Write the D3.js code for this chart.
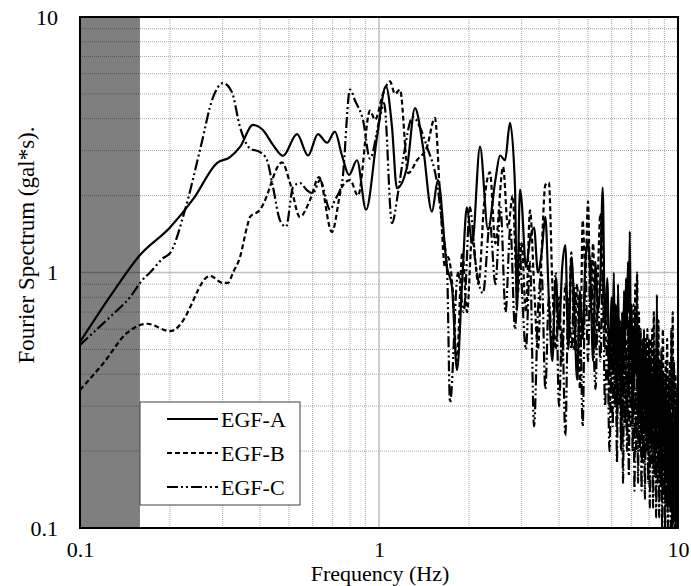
<!DOCTYPE html>
<html>
<head>
<meta charset="utf-8">
<script src="https://d3js.org/d3.v7.min.js"></script>
<style>
body { margin: 0; background: #fff; }
text { font-family: "Liberation Serif", "DejaVu Serif", "Noto Serif", "Times New Roman", serif; }
</style>
</head>
<body>
<div id="chart-area"></div>
<script>
// low frequency part of each spectrum, [Hz, gal*s]
var lowA = [[0.100,0.535],[0.13,0.85],[0.1587,1.17],[0.200,1.5],[0.24,1.95],[0.287,2.68],
    [0.3175,2.83],[0.343,3.10],[0.379,3.78],[0.409,3.61],[0.442,3.16],[0.4775,2.86],[0.532,3.48],[0.579,2.87],
    [0.625,3.48],[0.670,3.22],[0.712,3.56],[0.752,2.87],[0.794,2.41],[0.844,2.75],[0.905,1.76],[0.985,3.40],
    [1.055,5.37],[1.105,3.72],[1.148,2.14],[1.241,2.59],[1.319,4.40],[1.403,3.11],[1.503,1.73],[1.575,2.30],
    [1.688,1.05],[1.754,0.88],[1.823,0.415],[1.90,0.95],[1.967,1.80],[2.05,1.3],[2.177,3.11],[2.315,1.47],
    [2.45,2.3],[2.54,2.87],[2.64,2.75],[2.742,3.85],[2.85,2.16],[2.893,0.71],[2.962,2.11]];

var lowB = [[0.100,0.347],[0.1194,0.44],[0.1436,0.58],[0.1675,0.63],[0.200,0.59],[0.228,0.69],[0.2333,0.73],
    [0.266,0.96],[0.272,0.97],[0.3008,0.91],[0.3126,0.91],[0.325,1.0],[0.343,1.15],[0.362,1.51],[0.3704,1.65],
    [0.400,1.76],[0.409,1.84],[0.474,2.70],[0.504,2.24],[0.544,1.65],[0.5876,1.92],[0.630,2.36],[0.696,1.44],
    [0.752,2.16],[0.80,2.30],[0.851,2.0],[0.933,4.3],[0.970,3.96],[1.031,5.0],[1.088,5.6],[1.131,5.0],
    [1.175,5.2],[1.253,2.45],[1.340,2.75],[1.447,3.10],[1.538,4.03],[1.600,2.0],[1.662,1.05],[1.700,1.15],
    [1.768,0.83],[1.82,0.45],[1.90,1.2],[1.97,0.7],[2.05,1.4],[2.15,0.9],[2.25,1.9],[2.35,2.47],[2.45,1.3],
    [2.6,2.59],[2.7,1.5],[2.8,2.0],[2.9,0.8]];

var lowC = [[0.100,0.52],[0.1105,0.58],[0.126,0.67],[0.147,0.80],[0.1624,0.94],[0.1715,1.0],[0.19,1.14],
    [0.2,1.19],[0.2246,1.76],[0.252,3.02],[0.2786,4.85],[0.3008,5.51],[0.322,5.09],[0.343,3.70],[0.3704,3.06],
    [0.400,2.96],[0.422,2.75],[0.442,2.16],[0.4667,1.6],[0.4887,1.51],[0.516,2.16],[0.544,2.24],[0.574,2.1],
    [0.601,2.04],[0.635,2.3],[0.686,1.76],[0.712,1.92],[0.752,2.24],[0.80,5.2],[0.832,4.7],[0.884,3.95],
    [0.933,2.79],[1.003,3.95],[1.04,4.6],[1.105,1.56],[1.157,2.04],[1.202,2.75],[1.299,4.07],[1.371,3.7],
    [1.447,3.1],[1.563,2.24],[1.637,1.43],[1.69,1.0],[1.728,0.31],[1.838,1.0],[1.92,0.7],[2.014,1.80],
    [2.1,1.1],[2.228,0.83],[2.35,1.56],[2.45,0.9],[2.55,1.8],[2.65,0.7],[2.75,1.5],[2.85,0.6],[2.95,1.3]];

// high frequency part, shared frequency grid
var hfFreq = [3.0,3.1,3.2,3.3,3.4,3.5,3.6,3.7,3.8,3.9,
    4.0,4.1,4.2,4.3,4.4,4.5,4.6,4.7,4.8,4.9,
    5.0,5.1,5.2,5.3,5.4,5.5,5.6,5.7,5.8,5.9,
    6.0,6.05,6.1,6.15,6.2,6.25,6.3,6.35,6.4,6.45,
    6.5,6.55,6.6,6.65,6.7,6.75,6.8,6.85,6.9,6.95,
    7.0,7.05,7.1,7.15,7.2,7.25,7.3,7.35,7.4,7.45,
    7.5,7.55,7.6,7.65,7.7,7.75,7.8,7.85,7.9,7.95,
    8.0,8.05,8.1,8.15,8.2,8.25,8.3,8.35,8.4,8.45,
    8.5,8.55,8.6,8.65,8.7,8.75,8.8,8.85,8.9,8.95,
    9.0,9.05,9.1,9.15,9.2,9.25,9.3,9.35,9.4,9.45,
    9.5,9.55,9.6,9.65,9.7,9.75,9.8,9.85,9.9,9.95,
    10.0];

var hfA = [1.9,1.05,1.35,1.5,1.0,1.2,1.65,0.78,0.45,0.95,
    0.6,1.05,1.28,0.5,1.15,0.7,0.38,0.85,0.55,1.1,
    1.32,0.9,0.45,1.1,0.7,0.95,2.15,0.6,0.95,0.4,
    0.8,0.55,1.0,0.45,0.75,0.3,0.9,0.5,0.65,0.28,
    0.7,0.4,0.85,0.5,0.95,0.6,1.1,0.7,1.45,0.5,
    0.75,0.3,0.6,0.35,0.7,0.4,0.55,0.25,0.6,0.3,
    0.5,0.22,0.55,0.35,0.6,0.28,0.5,0.2,0.45,0.3,
    0.55,0.25,0.45,0.2,0.4,0.28,0.5,0.2,0.45,0.3,
    0.82,0.25,0.4,0.18,0.45,0.25,0.35,0.15,0.4,0.22,
    0.35,0.15,0.4,0.2,0.3,0.13,0.35,0.18,0.3,0.12,
    0.28,0.15,0.3,0.11,0.25,0.14,0.3,0.1,0.22,0.12,
    0.33];

var hfB = [1.3,0.7,1.75,0.9,0.5,1.2,2.2,2.25,0.9,0.5,
    0.8,0.45,0.9,0.6,1.2,0.5,0.9,0.35,1.6,1.0,
    1.9,0.7,1.3,0.5,1.0,1.7,0.9,0.5,0.75,0.3,
    0.6,0.4,0.8,0.3,0.55,0.25,0.7,0.4,0.5,0.2,
    0.6,0.3,0.7,0.4,0.55,0.25,0.65,0.35,0.8,0.45,
    0.6,0.3,0.75,0.4,0.9,0.5,1.0,0.35,0.7,0.28,
    0.6,0.3,0.5,0.18,0.45,0.25,0.55,0.3,0.6,0.2,
    0.45,0.3,0.55,0.22,0.6,0.35,0.7,0.3,0.5,0.2,
    0.55,0.3,0.65,0.25,0.45,0.17,0.5,0.3,0.6,0.25,
    0.4,0.15,0.45,0.25,0.55,0.2,0.4,0.14,0.45,0.25,
    0.6,0.3,0.7,0.2,0.45,0.15,0.4,0.12,0.35,0.2,
    0.45];

var hfC = [0.9,0.5,1.1,0.25,0.7,1.0,0.35,0.8,0.5,1.0,
    0.3,0.6,0.23,0.8,0.5,0.9,0.4,0.7,0.25,1.05,
    0.45,1.15,0.6,0.35,0.8,0.45,1.0,0.3,0.55,0.2,
    0.5,0.25,0.65,0.3,0.45,0.18,0.55,0.3,0.6,0.22,
    0.4,0.15,0.45,0.25,0.5,0.2,0.4,0.16,0.45,0.25,
    0.55,0.2,0.4,0.14,0.35,0.2,0.45,0.15,0.35,0.2,
    0.4,0.14,0.3,0.18,0.35,0.13,0.3,0.2,0.4,0.15,
    0.3,0.12,0.35,0.18,0.28,0.12,0.3,0.16,0.25,0.11,
    0.3,0.15,0.25,0.11,0.28,0.14,0.22,0.1,0.25,0.13,
    0.22,0.1,0.25,0.12,0.2,0.1,0.22,0.12,0.18,0.1,
    0.2,0.1,0.22,0.1,0.17,0.1,0.2,0.1,0.15,0.1,
    0.2];

var seriesNames = ["EGF-A", "EGF-B", "EGF-C"];
var majorTicks = [0.1, 1, 10];
var minorTicks = [0.2,0.3,0.4,0.5,0.6,0.7,0.8,0.9,2,3,4,5,6,7,8,9];
var cutoff = 0.1587;   // shaded band upper frequency

var width = 598;
var height = 511;
var fontTick = "22px";
var fontTitle = "22px";
var serifFont = "'Liberation Serif', 'DejaVu Serif', 'Noto Serif', 'Times New Roman', serif";

var svg = d3.select("#chart-area")
    .append("svg")
    .attr("width", 691)
    .attr("height", 586)
    .attr("font-family", serifFont);

svg.append("rect").attr("width", 691).attr("height", 586).attr("fill", "#fff");

var g = svg.append("g")
    .attr("transform", "translate(80,17)");

var x = d3.scaleLog().domain([0.1, 10]).range([0, width]);
var y = d3.scaleLog().domain([0.1, 10]).range([height, 0]);

// grid
g.append("g")
    .attr("class", "grid minor")
    .selectAll("line.vx")
    .data(minorTicks)
    .enter().append("line")
        .attr("x1", function(d) { return x(d); })
        .attr("x2", function(d) { return x(d); })
        .attr("y1", 0)
        .attr("y2", height)
        .attr("stroke", "#a6a6a6")
        .attr("stroke-width", 1)
        .attr("stroke-dasharray", "1,1");

g.append("g")
    .attr("class", "grid minor")
    .selectAll("line.hy")
    .data(minorTicks)
    .enter().append("line")
        .attr("x1", 0)
        .attr("x2", width)
        .attr("y1", function(d) { return y(d); })
        .attr("y2", function(d) { return y(d); })
        .attr("stroke", "#a6a6a6")
        .attr("stroke-width", 1)
        .attr("stroke-dasharray", "1,1");

g.append("line")
    .attr("x1", x(1)).attr("x2", x(1))
    .attr("y1", 0).attr("y2", height)
    .attr("stroke", "#bfbfbf").attr("stroke-width", 1.5);

g.append("line")
    .attr("x1", 0).attr("x2", width)
    .attr("y1", y(1)).attr("y2", y(1))
    .attr("stroke", "#bfbfbf").attr("stroke-width", 1.5);

// shaded band below cutoff
g.append("rect")
    .attr("x", x(0.1))
    .attr("y", 0)
    .attr("width", x(cutoff) - x(0.1))
    .attr("height", height)
    .attr("fill", "#000")
    .attr("fill-opacity", 0.5);

// series
var seriesData = [
    lowA.concat(hfFreq.map(function(f, i) { return [f, hfA[i]]; })),
    lowB.concat(hfFreq.map(function(f, i) { return [f, hfB[i]]; })),
    lowC.concat(hfFreq.map(function(f, i) { return [f, hfC[i]]; }))
];
var dashes = [null, "5,3", "11,3,2,3,2,3"];

svg.append("clipPath")
    .attr("id", "plot-clip")
    .append("rect")
    .attr("width", width)
    .attr("height", height);

var line = d3.line()
    .x(function(d) { return x(d[0]); })
    .y(function(d) { return y(d[1]); })
    .curve(d3.curveMonotoneX);

g.append("g")
    .attr("clip-path", "url(#plot-clip)")
    .selectAll("path")
    .data(seriesData)
    .enter().append("path")
        .attr("d", line)
        .attr("fill", "none")
        .attr("stroke", "#000")
        .attr("stroke-width", 2.2)
        .attr("stroke-dasharray", function(d, i) { return dashes[i]; });

// frame
g.append("rect")
    .attr("width", width)
    .attr("height", height)
    .attr("fill", "none")
    .attr("stroke", "#000")
    .attr("stroke-width", 2);

// axes
var xAxisGroup = g.append("g")
    .attr("transform", "translate(0," + height + ")")
    .call(d3.axisBottom(x).tickValues(majorTicks).tickSize(0).tickPadding(13)
        .tickFormat(function(d) { return d; }));
xAxisGroup.select(".domain").remove();
xAxisGroup.attr("font-family", serifFont);
xAxisGroup.selectAll("text")
    .attr("font-size", fontTick)
    .attr("fill", "#000");

var yAxisGroup = g.append("g")
    .call(d3.axisLeft(y).tickValues(majorTicks).tickSize(0).tickPadding(22)
        .tickFormat(function(d) { return d; }));
yAxisGroup.select(".domain").remove();
yAxisGroup.attr("font-family", serifFont);
yAxisGroup.selectAll("text")
    .attr("font-size", fontTick)
    .attr("fill", "#000");

// axis titles
svg.append("text")
    .attr("x", 380)
    .attr("y", 581)
    .attr("font-size", fontTitle)
    .attr("text-anchor", "middle")
    .text("Frequency (Hz)");

svg.append("text")
    .attr("transform", "translate(34,245) rotate(-90)")
    .attr("font-size", "23px")
    .attr("text-anchor", "middle")
    .text("Fourier Spectrum (gal*s).");

// legend
var legend = svg.append("g")
    .attr("transform", "translate(140,402)");

legend.append("rect")
    .attr("width", 160)
    .attr("height", 103)
    .attr("fill", "#fff")
    .attr("stroke", "#404040")
    .attr("stroke-width", 1);

var rows = legend.selectAll("g.row")
    .data(seriesNames)
    .enter().append("g")
        .attr("class", "row")
        .attr("transform", function(d, i) { return "translate(0," + (17 + i * 34) + ")"; });

rows.append("line")
    .attr("x1", 27)
    .attr("x2", 78)
    .attr("stroke", "#000")
    .attr("stroke-width", 2)
    .attr("stroke-dasharray", function(d, i) { return dashes[i]; });

rows.append("text")
    .attr("x", 81)
    .attr("y", 8)
    .attr("font-size", "22px")
    .text(function(d) { return d; });
</script>
</body>
</html>
